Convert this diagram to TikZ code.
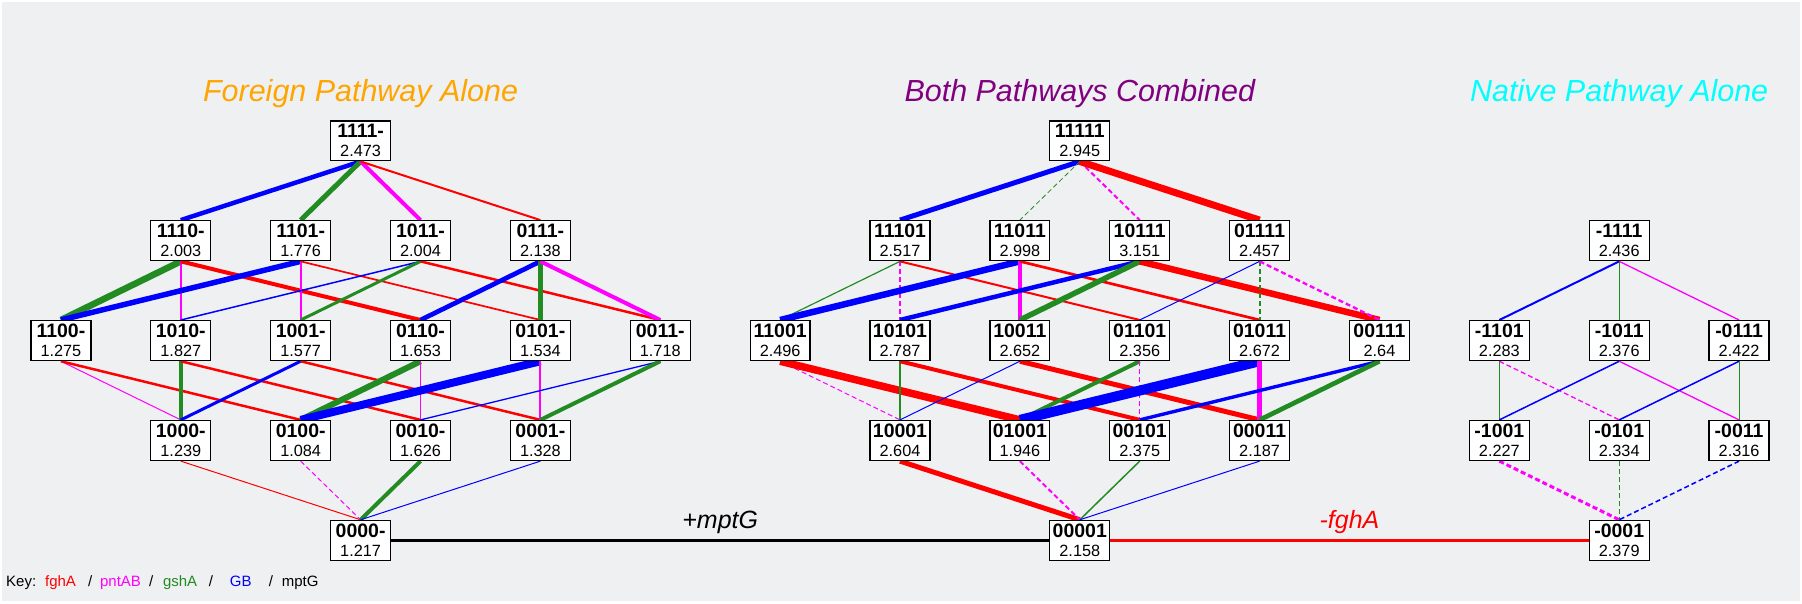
\documentclass[tikz,border=0pt]{standalone}
\usepackage{fontspec}
\setmainfont{Liberation Sans}
\definecolor{cR}{RGB}{255,0,0}
\definecolor{cM}{RGB}{255,0,255}
\definecolor{cG}{RGB}{34,139,34}
\definecolor{cB}{RGB}{0,0,255}
\definecolor{bgc}{RGB}{239,240,242}
\definecolor{cOr}{RGB}{255,165,0}
\definecolor{cPu}{RGB}{128,0,128}
\definecolor{cCy}{RGB}{0,255,255}
\pgfdeclarelayer{bglayer}
\pgfdeclarelayer{edgelayer}
\pgfsetlayers{bglayer,edgelayer,main}
\tikzset{
  nd/.style={draw=black, line width=1.3pt, fill=white, minimum width=60pt, minimum height=40pt,
    inner sep=0pt, align=center, font=\fontsize{16.3}{19}\selectfont},
  er/.style={draw=cR}, em/.style={draw=cM}, eg/.style={draw=cG}, eb/.style={draw=cB},
  dsh/.style={dash pattern=on 5pt off 3pt},
  ttl/.style={anchor=base, font=\fontsize{30.5}{36}\selectfont\itshape},
  mut/.style={anchor=base, font=\fontsize{25}{30}\selectfont\itshape},
  keyt/.style={anchor=base west, inner sep=0pt, font=\fontsize{15}{18}\selectfont},
}
\newcommand\gn[4]{\node[nd] (#1) at (#2) {{\fontsize{19.5}{19}\selectfont\bfseries #3}\\#4};}
\newcommand\ed[4]{\draw[#1, line width=#2pt] (#3.south) -- (#4.north);}
\begin{document}
\begin{tikzpicture}[x=1pt,y=-1pt]
\begin{pgfonlayer}{bglayer}
\fill[bgc] (0,0) rectangle (1802,602);
\draw[white, line width=2pt] (0,0) rectangle (1802,602);
\end{pgfonlayer}
\useasboundingbox (0,0) rectangle (1802,602);
% titles
\node[ttl, text=cOr] (t1) at (360,100.5) {Foreign Pathway Alone};
\node[ttl, text=cPu] (t2) at (1080,100.5) {Both Pathways Combined};
\node[ttl, text=cCy] (t3) at (1620,100.5) {Native Pathway Alone};
% foreign
\gn{f1111}{360,140}{1111-}{2.473}
\gn{f1110}{180,240}{1110-}{2.003}
\gn{f1101}{300,240}{1101-}{1.776}
\gn{f1011}{420,240}{1011-}{2.004}
\gn{f0111}{540,240}{0111-}{2.138}
\gn{f1100}{60,340}{1100-}{1.275}
\gn{f1010}{180,340}{1010-}{1.827}
\gn{f1001}{300,340}{1001-}{1.577}
\gn{f0110}{420,340}{0110-}{1.653}
\gn{f0101}{540,340}{0101-}{1.534}
\gn{f0011}{660,340}{0011-}{1.718}
\gn{f1000}{180,440}{1000-}{1.239}
\gn{f0100}{300,440}{0100-}{1.084}
\gn{f0010}{420,440}{0010-}{1.626}
\gn{f0001}{540,440}{0001-}{1.328}
\gn{f0000}{360,540}{0000-}{1.217}
% both
\gn{c11111}{1080,140}{11111}{2.945}
\gn{c11101}{900,240}{11101}{2.517}
\gn{c11011}{1020,240}{11011}{2.998}
\gn{c10111}{1140,240}{10111}{3.151}
\gn{c01111}{1260,240}{01111}{2.457}
\gn{c11001}{780,340}{11001}{2.496}
\gn{c10101}{900,340}{10101}{2.787}
\gn{c10011}{1020,340}{10011}{2.652}
\gn{c01101}{1140,340}{01101}{2.356}
\gn{c01011}{1260,340}{01011}{2.672}
\gn{c00111}{1380,340}{00111}{2.64}
\gn{c10001}{900,440}{10001}{2.604}
\gn{c01001}{1020,440}{01001}{1.946}
\gn{c00101}{1140,440}{00101}{2.375}
\gn{c00011}{1260,440}{00011}{2.187}
\gn{c00001}{1080,540}{00001}{2.158}
% native
\gn{n1111}{1620,240}{-1111}{2.436}
\gn{n1101}{1500,340}{-1101}{2.283}
\gn{n1011}{1620,340}{-1011}{2.376}
\gn{n0111}{1740,340}{-0111}{2.422}
\gn{n1001}{1500,440}{-1001}{2.227}
\gn{n0101}{1620,440}{-0101}{2.334}
\gn{n0011}{1740,440}{-0011}{2.316}
\gn{n0001}{1620,540}{-0001}{2.379}
% mutation labels
\node[mut, text=black] (mt1) at (720,528) {+mptG};
\node[mut, text=cR] (mt2) at (1350,528) {-fghA};
% key
\node[keyt] (k0) at (5,586) {Key:};
\node[keyt, text=cR] (k1) at (44,586) {fghA};
\node[keyt] (k2) at (87,586) {/};
\node[keyt, text=cM] (k3) at (99,586) {pntAB};
\node[keyt] (k4) at (148,586) {/};
\node[keyt, text=cG] (k5) at (162,586) {gshA};
\node[keyt] (k6) at (208,586) {/};
\node[keyt, text=cB] (k7) at (229,586) {GB};
\node[keyt] (k8) at (268,586) {/};
\node[keyt] (k9) at (281,586) {mptG};
\begin{pgfonlayer}{edgelayer}
% horizontal connectors
\draw[black, line width=3.5pt] (f0000.east) -- (c00001.west);
\draw[cR, line width=3.5pt] (c00001.east) -- (n0001.west);
% foreign edges
\ed{eb}{4.5}{f1111}{f1110}
\ed{eg}{5}{f1111}{f1101}
\ed{em}{4}{f1111}{f1011}
\ed{er}{2}{f1111}{f0111}
\ed{eg}{6.5}{f1110}{f1100}
\ed{em}{1.8}{f1110}{f1010}
\ed{er}{4}{f1110}{f0110}
\ed{eb}{5.5}{f1101}{f1100}
\ed{em}{1.8}{f1101}{f1001}
\ed{er}{1.7}{f1101}{f0101}
\ed{eb}{1.5}{f1011}{f1010}
\ed{eg}{3}{f1011}{f1001}
\ed{er}{2.5}{f1011}{f0011}
\ed{eb}{4.7}{f0111}{f0110}
\ed{eg}{5.5}{f0111}{f0101}
\ed{em}{4}{f0111}{f0011}
\ed{em}{1}{f1100}{f1000}
\ed{er}{2.5}{f1100}{f0100}
\ed{eg}{4.6}{f1010}{f1000}
\ed{er}{2.5}{f1010}{f0010}
\ed{eb}{3}{f1001}{f1000}
\ed{er}{2.5}{f1001}{f0001}
\ed{eg}{6}{f0110}{f0100}
\ed{em}{1}{f0110}{f0010}
\ed{eb}{8}{f0101}{f0100}
\ed{em}{2}{f0101}{f0001}
\ed{eb}{1.3}{f0011}{f0010}
\ed{eg}{4}{f0011}{f0001}
\ed{er}{1}{f1000}{f0000}
\ed{em,dsh}{1}{f0100}{f0000}
\ed{eg}{4}{f0010}{f0000}
\ed{eb}{1}{f0001}{f0000}
% both edges
\ed{eb}{5}{c11111}{c11101}
\ed{eg,dsh}{0.8}{c11111}{c11011}
\ed{em,dsh}{2}{c11111}{c10111}
\ed{er}{7}{c11111}{c01111}
\ed{eg}{1.2}{c11101}{c11001}
\ed{em,dsh}{2.7}{c11101}{c10101}
\ed{er}{2}{c11101}{c01101}
\ed{eb}{6.5}{c11011}{c11001}
\ed{em}{3.3}{c11011}{c10011}
\ed{er}{2.7}{c11011}{c01011}
\ed{eb}{4.5}{c10111}{c10101}
\ed{eg}{5.5}{c10111}{c10011}
\ed{er}{6.5}{c10111}{c00111}
\ed{eb}{1}{c01111}{c01101}
\ed{eg,dsh}{2}{c01111}{c01011}
\ed{em,dsh}{2.3}{c01111}{c00111}
\ed{em,dsh}{1}{c11001}{c10001}
\ed{er}{7.5}{c11001}{c01001}
\ed{eg}{1.4}{c10101}{c10001}
\ed{er}{4}{c10101}{c00101}
\ed{eb}{1}{c10011}{c10001}
\ed{er}{5}{c10011}{c00011}
\ed{eg}{4}{c01101}{c01001}
\ed{em,dsh}{1}{c01101}{c00101}
\ed{eb}{10}{c01011}{c01001}
\ed{em}{4.5}{c01011}{c00011}
\ed{eb}{3.4}{c00111}{c00101}
\ed{eg}{4.7}{c00111}{c00011}
\ed{er}{5}{c10001}{c00001}
\ed{em,dsh}{2}{c01001}{c00001}
\ed{eg}{1.5}{c00101}{c00001}
\ed{eb}{1}{c00011}{c00001}
% native edges
\ed{eb}{2}{n1111}{n1101}
\ed{eg}{1}{n1111}{n1011}
\ed{em}{1.3}{n1111}{n0111}
\ed{eg}{1}{n1101}{n1001}
\ed{em,dsh}{1.3}{n1101}{n0101}
\ed{eb}{1.5}{n1011}{n1001}
\ed{em}{1.3}{n1011}{n0011}
\ed{eb}{1.5}{n0111}{n0101}
\ed{eg}{1}{n0111}{n0011}
\ed{em,dsh}{3}{n1001}{n0001}
\ed{eg,dsh}{1}{n0101}{n0001}
\ed{eb,dsh}{1.5}{n0011}{n0001}
\end{pgfonlayer}
\end{tikzpicture}
\end{document}
